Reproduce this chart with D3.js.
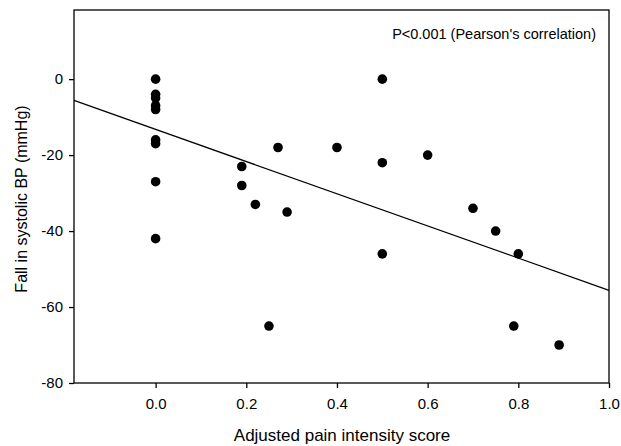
<!DOCTYPE html>
<html>
<head>
<meta charset="utf-8">
<script src="https://cdn.jsdelivr.net/npm/d3@7"></script>
<style>
  body { margin: 0; background: #fff; }
  text { font-family: "Liberation Sans", Arial, sans-serif; fill: #000; }
</style>
</head>
<body>
<div class="container"></div>
<script>
const painScore = [0, 0, 0, 0, 0, 0, 0, 0, 0,
  0.19, 0.19, 0.22, 0.25, 0.27, 0.29, 0.40, 0.50, 0.50, 0.50,
  0.60, 0.70, 0.75, 0.79, 0.80, 0.89];
const bpFall = [0, -4, -5, -7, -8, -16, -17, -27, -42,
  -23, -28, -33, -65, -18, -35, -18, 0, -22, -46,
  -20, -34, -40, -65, -46, -70];
const xTicks = [0, 0.2, 0.4, 0.6, 0.8, 1.0];
const yTicks = [0, -20, -40, -60, -80];
// fitted regression line
const fitX = [-0.18, 1.0];
const fitY = [-5.6, -55.6];

const w = 621;
const h = 446;
const plotLeft = 74, plotRight = 609, plotTop = 10, plotBottom = 383;

const svg = d3.select('.container').append('svg')
  .attr('width', w)
  .attr('height', h);

const xScale = d3.scaleLinear().domain([-0.18, 1.0]).range([plotLeft, plotRight]);
const yScale = d3.scaleLinear().domain([-80, 18.2]).range([plotBottom, plotTop]);

// frame
svg.append('rect')
  .attr('x', plotLeft).attr('y', plotTop)
  .attr('width', plotRight - plotLeft).attr('height', plotBottom - plotTop)
  .attr('fill', 'none').attr('stroke', '#000').attr('stroke-width', 1.3);

const xAxis = svg.append('g')
  .attr('transform', 'translate(0,' + plotBottom + ')')
  .call(d3.axisBottom(xScale).tickValues(xTicks).tickFormat(d3.format('.1f')).tickSize(5).tickPadding(10));
const yAxis = svg.append('g')
  .attr('transform', 'translate(' + plotLeft + ',0)')
  .call(d3.axisLeft(yScale).tickValues(yTicks).tickFormat(d => String(d)).tickSize(5).tickPadding(6));

[xAxis, yAxis].forEach(function (g) {
  g.select('.domain').remove();
  g.selectAll('line').attr('stroke', '#000').attr('stroke-width', 1.3);
  g.selectAll('text').style('font-size', '15px').style('font-family', '"Liberation Sans", Arial, sans-serif');
});

// regression line
svg.append('line')
  .attr('x1', xScale(fitX[0])).attr('y1', yScale(fitY[0]))
  .attr('x2', xScale(fitX[1])).attr('y2', yScale(fitY[1]))
  .attr('stroke', '#000').attr('stroke-width', 1.2);

svg.selectAll('circle')
  .data(painScore.map((d, i) => [d, bpFall[i]]))
  .enter()
  .append('circle')
  .attr('cx', d => xScale(d[0]))
  .attr('cy', d => yScale(d[1]))
  .attr('r', 4.8)
  .attr('fill', '#000');

svg.append('text')
  .attr('x', 596).attr('y', 39)
  .style('text-anchor', 'end')
  .style('font-size', '14.5px')
  .text("P<0.001 (Pearson's correlation)");

svg.append('text')
  .attr('x', 342).attr('y', 441)
  .style('text-anchor', 'middle')
  .style('font-size', '17px')
  .text('Adjusted pain intensity score');

svg.append('text')
  .attr('transform', 'rotate(-90)')
  .attr('x', -199).attr('y', 27)
  .style('text-anchor', 'middle')
  .style('font-size', '16px')
  .text('Fall in systolic BP (mmHg)');
</script>
</body>
</html>
